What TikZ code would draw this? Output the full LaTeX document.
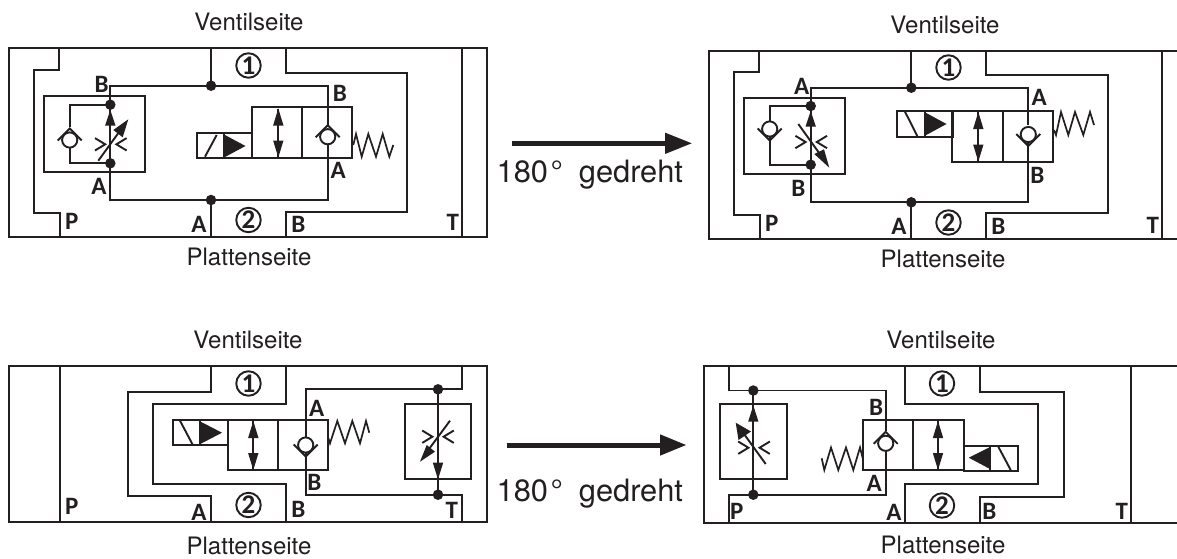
\documentclass[tikz,border=0pt]{standalone}
\usepackage{fontspec}
\setmainfont{TeX Gyre Heros}
\newfontfamily\labfont{Carlito}
\definecolor{ink}{HTML}{231F20}
\newcommand{\szA}{\fontsize{24}{26}\selectfont}
\newcommand{\szB}{\fontsize{30.8}{34}\selectfont}
\newcommand{\szC}{\labfont\bfseries\fontsize{25}{26}\selectfont}
\newcommand{\szD}{\labfont\bfseries\fontsize{27}{27}\selectfont}
% check valve: x, circle y, direction of apex (-1 up, 1 down)
\newcommand{\chkvalve}[3]{%
  \draw[wire,fill=white] (#1,#2) circle[radius=7.6];
  \draw[wire] ({#1-12},{#2+#3*(-0.5)}) -- ({#1},{#2+#3*11.5}) -- ({#1+12},{#2+#3*(-0.5)});
}
% throttle chevrons: x, y
\newcommand{\chevrons}[2]{%
  \draw[wire] ({#1-15.8},{#2-6.2}) -- ({#1-5.6},{#2}) -- ({#1-15.8},{#2+6.2});
  \draw[wire] ({#1+15.8},{#2-6.2}) -- ({#1+5.6},{#2}) -- ({#1+15.8},{#2+6.2});
}
% filled triangle head on a vertical: x, tip y, base y
\newcommand{\vhead}[3]{\fill[ink] (#1,#2) -- ({#1-5.2},#3) -- ({#1+5.2},#3) -- cycle;}
% two-way arrow: x, y top, y bottom
\newcommand{\twoway}[3]{%
  \draw[wire] (#1,#2) -- (#1,#3);
  \vhead{#1}{#2}{#2+17}
  \vhead{#1}{#3}{#3-17}
}
\begin{document}
\begin{tikzpicture}[x=1pt,y=-1pt,
  wire/.style={draw=ink,line width=1.9pt,line join=miter},
  spring/.style={draw=ink,line width=1.7pt,line join=miter},
  dot/.style={circle,fill=ink,draw=none,minimum size=10.5pt,inner sep=0pt},
  note/.style={text=ink,font=\szA,inner sep=0pt,anchor=center},
  bigtext/.style={text=ink,font=\szB,inner sep=0pt,anchor=base west},
  port/.style={text=ink,font=\szC,inner sep=0pt,anchor=center},
  num/.style={circle,draw=ink,line width=1.9pt,minimum size=24.5pt,inner sep=0pt,text=ink,font=\szD},
  turn/.style={draw=ink,line width=5pt}]
\useasboundingbox (0,0) rectangle (1177,558);
\fill[white] (0,0) rectangle (1177,558);

% ===== Panel 1 =====
\node[note] (v1) at (249,22) {Ventilseite};
\node[note] (u1) at (249,257) {Plattenseite};
\draw[wire] (9.3,48.3) rectangle (487.3,236.7);
\draw[wire] (59.3,48.3) |- (34.3,70) |- (60.3,213) -- (60.3,236.7);
\draw[wire] (286,48.3) |- (407.3,72.7) |- (286,211.7) -- (286,236.7);
\draw[wire] (462,48.3) -- (462,236.7);
\node[dot] (a1) at (211,85.7) {};
\node[dot] (b1) at (211,200) {};
\node[dot] (c1) at (110.3,104.7) {};
\node[dot] (e1) at (110.3,163.3) {};
\draw[wire] (a1.center) -- (211,48.3);
\draw[wire] (b1.center) -- (211,236.7);
\draw[wire] (327.7,125) |- (a1.center) -| (c1.center);
\draw[wire] (327.7,144) |- (b1.center) -| (e1.center);
\draw[wire] (c1.center) -- (e1.center);
\draw[wire] (43.7,96.3) rectangle (145,172.3);
\draw[wire] (c1.center) -| (69.7,127.3);
\draw[wire] (e1.center) -| (69.7,140);
\chkvalve{69.7}{140}{-1}
\vhead{110.3}{110}{125.5}
\chevrons{110.8}{144.3}
\draw[wire] (98.3,160.7) -- (122,128);
\fill[ink] (128.3,119.3) -- (113.3,130) -- (122.7,137.3) -- cycle;
\draw[wire] (196.7,133.3) rectangle (251.7,158.3);
\draw[wire] (205,156.7) -- (216.7,135);
\draw[wire] (224,133.3) -- (224,158.3);
\fill[ink] (224,134.5) -- (245.5,146) -- (224,157.5) -- cycle;
\draw[wire] (251.7,107.3) rectangle (352.3,157.7);
\draw[wire] (302.3,107.3) -- (302.3,157.7);
\twoway{278.3}{108.5}{157.5}
\chkvalve{327.7}{136.7}{-1}
\draw[spring] (353.3,145) -- (356,134) -- (361.7,156.7) -- (368.3,134) -- (376,156.7) -- (382.7,134) -- (389.3,156.7) -- (393.3,145);
\node[port] (p1a) at (101.7,84) {B};
\node[port] (p1b) at (99,186.7) {A};
\node[port] (p1c) at (71.7,221.7) {P};
\node[port] (p1d) at (199,224) {A};
\node[port] (p1e) at (340,93.3) {B};
\node[port] (p1f) at (338.3,170) {A};
\node[port] (p1g) at (298.3,224) {B};
\node[port] (p1h) at (452.7,222.7) {T};
\node[num] (n1a) at (248.5,65.5) {1};
\node[num] (n1b) at (248.5,220) {2};

% ===== Arrow top =====
\coordinate (t1s) at (512,143.3);
\coordinate (t1e) at (667,143.3);
\draw[turn] (t1s) -- (t1e);
\fill[ink] (665,132.6) -- (691.7,143.3) -- (665,154) -- cycle;
\node[bigtext] (g1) at (496.5,182.7) {180\kern2.5pt°\kern16pt gedreht};

% ===== Panel 2 =====
\node[note] (v2) at (945,25) {Ventilseite};
\node[note] (u2) at (943,259) {Plattenseite};
\draw[wire] (1177,50.7) -- (709.3,50.7) -- (709.3,239) -- (1177,239);
\draw[wire] (759.3,50.7) |- (734.3,72.3) |- (760.3,215) -- (760.3,239);
\draw[wire] (986,50.7) |- (1107.7,75) |- (986,213.3) -- (986,239);
\draw[wire] (1162,50.7) -- (1162,239);
\node[dot] (a2) at (911.3,87.7) {};
\node[dot] (b2) at (911.3,202.3) {};
\node[dot] (c2) at (810.7,106) {};
\node[dot] (e2) at (810.7,164.7) {};
\draw[wire] (a2.center) -- (911.3,50.7);
\draw[wire] (b2.center) -- (911.3,239);
\draw[wire] (1028.3,125) |- (a2.center) -| (c2.center);
\draw[wire] (1028.3,134) |- (b2.center) -| (e2.center);
\draw[wire] (c2.center) -- (e2.center);
\draw[wire] (743.7,98) rectangle (845,174);
\draw[wire] (c2.center) -| (769.7,125);
\draw[wire] (e2.center) -| (769.7,134);
\chkvalve{769.7}{129}{1}
\vhead{810.7}{111}{126.7}
\chevrons{811.2}{142}
\draw[wire] (798.3,124) -- (822,157);
\fill[ink] (829.3,167.7) -- (814.3,154) -- (824,149.3) -- cycle;
\draw[wire] (897.3,111) rectangle (952.7,136.7);
\draw[wire] (905,111.7) -- (917.3,136);
\draw[wire] (925.3,111) -- (925.3,136.7);
\fill[ink] (925.3,112.5) -- (946.5,124) -- (925.3,135.5) -- cycle;
\draw[wire] (952.3,111) rectangle (1052.7,161.7);
\draw[wire] (1002.7,111) -- (1002.7,161.7);
\twoway{978.3}{112}{161.5}
\chkvalve{1028.3}{134.5}{1}
\draw[spring] (1054,130) -- (1056,135) -- (1061,112) -- (1068.3,135) -- (1075,112) -- (1083.3,135) -- (1090,112) -- (1094,125);
\node[port] (p2a) at (801.7,86) {A};
\node[port] (p2b) at (798.3,188.3) {B};
\node[port] (p2c) at (771.7,223.3) {P};
\node[port] (p2d) at (899,226.7) {A};
\node[port] (p2e) at (1039.3,97.7) {A};
\node[port] (p2f) at (1037.3,175) {B};
\node[port] (p2g) at (998.3,226.7) {B};
\node[port] (p2h) at (1152.7,225) {T};
\node[num] (n2a) at (948.5,67.5) {1};
\node[num] (n2b) at (948.5,222.5) {2};

% ===== Panel 3 =====
\node[note] (v3) at (248,340) {Ventilseite};
\node[note] (u3) at (249,546) {Plattenseite};
\draw[wire] (9.3,365.7) rectangle (487.3,522.3);
\draw[wire] (60.3,365.7) -- (60.3,522.3);
\draw[wire] (211.3,365.7) |- (128,391.7) |- (211.3,496) -- (211.3,522.3);
\draw[wire] (286,365.7) |- (153.3,404) |- (286,484) -- (286,522.3);
\node[dot] (a3) at (438,389.3) {};
\node[dot] (b3) at (438,494.7) {};
\draw[wire] (462,365.7) |- (a3.center) -- (305.7,389.3) -- (305.7,437);
\draw[wire] (462,522.3) |- (b3.center) -- (305.7,494.7) -- (305.7,445);
\draw[wire] (a3.center) -- (b3.center);
\draw[wire] (404.7,404) rectangle (470.7,479);
\vhead{438}{479.3}{462.7}
\chevrons{438}{436.7}
\draw[wire] (450,420.7) -- (429,449);
\fill[ink] (420,461.7) -- (426.7,445) -- (435,451.7) -- cycle;
\draw[wire] (172.7,420) rectangle (228,445.3);
\draw[wire] (180,420.7) -- (192.7,444.7);
\draw[wire] (200.3,420) -- (200.3,445.3);
\fill[ink] (200.3,421.5) -- (222,432.7) -- (200.3,444) -- cycle;
\draw[wire] (228,420) rectangle (328.3,470.3);
\draw[wire] (278.3,420) -- (278.3,470.3);
\twoway{253.3}{421}{470}
\chkvalve{305.7}{445}{1}
\draw[spring] (328.3,438) -- (330,443.3) -- (337.3,421) -- (345,443.3) -- (352.3,421) -- (360,443.3) -- (366,421) -- (369.3,432.7);
\node[port] (p3a) at (71.7,506.7) {P};
\node[port] (p3b) at (199,512.3) {A};
\node[port] (p3c) at (316.7,408.3) {A};
\node[port] (p3d) at (314.3,482.3) {B};
\node[port] (p3e) at (298.3,509) {B};
\node[port] (p3f) at (451.7,510.7) {T};
\node[num] (n3a) at (248.5,383.5) {1};
\node[num] (n3b) at (248.5,505) {2};

% ===== Arrow bottom =====
\coordinate (t2s) at (506.7,445);
\coordinate (t2e) at (662,445);
\draw[turn] (t2s) -- (t2e);
\fill[ink] (660,434.3) -- (686,445) -- (660,455.7) -- cycle;
\node[bigtext] (g2) at (496.5,501) {180\kern2.5pt°\kern16pt gedreht};

% ===== Panel 4 =====
\node[note] (v4) at (941,340) {Ventilseite};
\node[note] (u4) at (943,545) {Plattenseite};
\draw[wire] (1177,365.7) -- (704,365.7) -- (704,522.7) -- (1177,522.7);
\draw[wire] (1131,365.7) -- (1131,522.7);
\node[dot] (a4) at (753.3,390.5) {};
\node[dot] (b4) at (753.3,494.7) {};
\draw[wire] (729.3,365.7) |- (a4.center) -- (885.7,390.5) -- (885.7,431);
\draw[wire] (729.3,522.7) |- (b4.center) -- (885.7,494.7) -- (885.7,450);
\draw[wire] (a4.center) -- (b4.center);
\draw[wire] (720.3,404.3) rectangle (786.7,479.3);
\vhead{753.3}{405.5}{421.7}
\chevrons{754}{447.7}
\draw[wire] (765.7,464) -- (744,434);
\fill[ink] (735.7,422.7) -- (738.5,440) -- (751,431.5) -- cycle;
\draw[wire] (905,365.7) |- (1037.7,404.3) |- (905,484.3) -- (905,522.7);
\draw[wire] (980,365.7) |- (1063.7,392) |- (980,496.7) -- (980,522.7);
\draw[wire] (862.7,420.3) rectangle (964,470.3);
\draw[wire] (913,420.3) -- (913,470.3);
\twoway{938}{421}{470}
\chkvalve{885.7}{443.3}{-1}
\draw[spring] (821.7,458.3) -- (824.3,470) -- (831,447.5) -- (838.3,470) -- (846,447.5) -- (853.3,470) -- (860,447.5) -- (862.7,458.3);
\draw[wire] (964,445.7) rectangle (1018.3,470.7);
\draw[wire] (990,445.7) -- (990,470.7);
\fill[ink] (990,447) -- (968.8,457.7) -- (990,469) -- cycle;
\draw[wire] (998.3,446.7) -- (1010.7,470);
\node[port] (p4a) at (876,407.3) {B};
\node[port] (p4b) at (874.3,483.3) {A};
\node[port] (p4c) at (736.7,511.7) {P};
\node[port] (p4d) at (894,512.3) {A};
\node[port] (p4e) at (989.3,511.7) {B};
\node[port] (p4f) at (1121.7,511.7) {T};
\node[num] (n4a) at (942,383.5) {1};
\node[num] (n4b) at (942,505.5) {2};
\end{tikzpicture}
\end{document}
